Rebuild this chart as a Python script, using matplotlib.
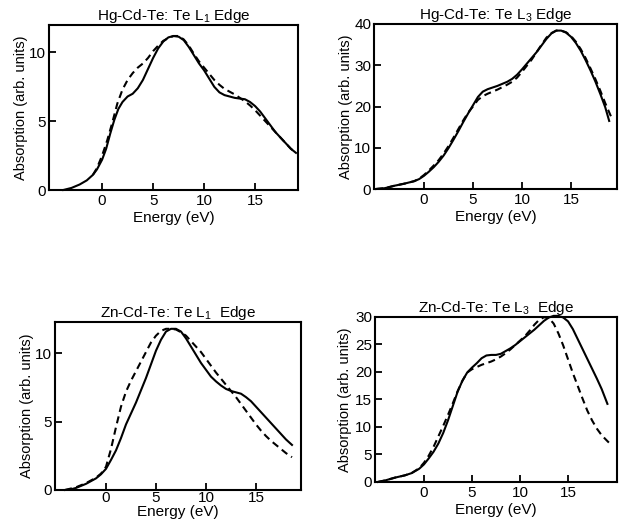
import matplotlib
matplotlib.use("Agg")
import matplotlib.pyplot as plt

# Hg-Cd-Te, Te L1 edge
hg_l1_e_solid = [-3.8, -3.0, -2.2, -1.5, -0.9, -0.5, 0.0, 0.4, 0.8, 1.2, 1.6, 2.0, 2.5, 3.0, 3.5, 4.0, 4.5,
                 5.0, 5.5, 6.0, 6.5, 7.0, 7.5, 8.0, 8.5, 9.0, 9.5, 10.0, 10.5, 11.0, 11.5, 12.0, 12.5,
                 13.0, 13.5, 14.0, 14.5, 15.0, 15.5, 16.0, 16.5, 17.0, 17.5, 18.0, 18.5, 19.0]
hg_l1_a_solid = [0.0, 0.15, 0.4, 0.7, 1.1, 1.5, 2.2, 3.0, 4.1, 5.1, 5.9, 6.4, 6.8, 7.0, 7.4, 8.0, 8.8,
                 9.6, 10.3, 10.8, 11.1, 11.2, 11.15, 10.9, 10.4, 9.8, 9.2, 8.7, 8.1, 7.5, 7.1, 6.9, 6.8,
                 6.7, 6.65, 6.6, 6.4, 6.1, 5.7, 5.2, 4.7, 4.2, 3.8, 3.4, 3.0, 2.7]
hg_l1_e_dash = [-0.9, -0.5, 0.0, 0.5, 1.0, 1.5, 2.0, 2.5, 3.0, 3.5, 4.0, 4.5, 5.0, 5.5, 6.0, 6.5, 7.0,
                7.5, 8.0, 8.5, 9.0, 9.5, 10.0, 10.5, 11.0, 11.5, 12.0, 12.5, 13.0, 13.5, 14.0, 14.5,
                15.0, 15.5, 16.0, 16.5, 17.0, 17.5, 18.0, 18.5, 19.0]
hg_l1_a_dash = [1.1, 1.6, 2.5, 3.6, 4.9, 6.3, 7.3, 8.0, 8.5, 8.9, 9.2, 9.6, 10.1, 10.5, 10.85, 11.05, 11.2,
                11.2, 10.95, 10.5, 9.9, 9.35, 8.9, 8.45, 8.0, 7.65, 7.35, 7.15, 6.95, 6.7, 6.45, 6.15,
                5.8, 5.4, 5.0, 4.6, 4.2, 3.8, 3.4, 3.0, 2.7]

# Hg-Cd-Te, Te L3 edge
hg_l3_e_solid = [-4.9, -4.0, -3.0, -2.0, -1.0, -0.5, 0.0, 0.5, 1.0, 1.5, 2.0, 2.5, 3.0, 3.5, 4.0, 4.5,
                 5.0, 5.5, 6.0, 6.5, 7.0, 7.5, 8.0, 8.5, 9.0, 9.5, 10.0, 10.5, 11.0, 11.5, 12.0, 12.5,
                 13.0, 13.5, 14.0, 14.5, 15.0, 15.5, 16.0, 16.5, 17.0, 17.5, 18.0, 18.5, 18.9]
hg_l3_a_solid = [0.0, 0.2, 0.8, 1.3, 1.9, 2.4, 3.2, 4.2, 5.3, 6.6, 8.1, 9.9, 11.9, 14.0, 16.2, 18.3,
                 20.3, 22.3, 23.6, 24.2, 24.6, 25.0, 25.5, 26.0, 26.7, 27.7, 29.0, 30.4, 31.8, 33.2, 34.8, 36.4,
                 37.7, 38.4, 38.4, 37.9, 36.9, 35.4, 33.5, 31.2, 28.7, 26.0, 23.0, 19.8, 16.5]
hg_l3_e_dash = [-4.9, -4.0, -3.0, -2.0, -1.0, -0.5, 0.0, 0.5, 1.0, 1.5, 2.0, 2.5, 3.0, 3.5, 4.0, 4.5,
                5.0, 5.5, 6.0, 6.5, 7.0, 7.5, 8.0, 8.5, 9.0, 9.5, 10.0, 10.5, 11.0, 11.5, 12.0, 12.5,
                13.0, 13.5, 14.0, 14.5, 15.0, 15.5, 16.0, 16.5, 17.0, 17.5, 18.0, 18.5, 19.1]
hg_l3_a_dash = [0.0, 0.2, 0.8, 1.3, 1.9, 2.5, 3.4, 4.5, 5.7, 7.0, 8.6, 10.4, 12.4, 14.5, 16.6, 18.5,
                20.0, 21.6, 22.5, 23.1, 23.6, 24.1, 24.7, 25.3, 26.0, 27.0, 28.4, 29.9, 31.4, 33.2, 35.0, 36.7,
                37.8, 38.4, 38.4, 38.0, 37.1, 35.7, 33.9, 31.7, 29.2, 26.6, 23.8, 20.8, 17.5]

# Zn-Cd-Te, Te L1 edge
zn_l1_e_solid = [-4.1, -3.5, -3.0, -2.5, -2.0, -1.5, -1.0, -0.5, 0.0, 0.5, 1.0, 1.5, 2.0, 2.5, 3.0, 3.5,
                 4.0, 4.5, 5.0, 5.5, 6.0, 6.5, 7.0, 7.5, 8.0, 8.5, 9.0, 9.5, 10.0, 10.5, 11.0, 11.5,
                 12.0, 12.5, 13.0, 13.5, 14.0, 14.5, 15.0, 15.5, 16.0, 16.5, 17.0, 17.5, 18.0, 18.6]
zn_l1_a_solid = [0.0, 0.05, 0.15, 0.3, 0.45, 0.65, 0.85, 1.15, 1.55, 2.2, 2.9, 3.8, 4.8, 5.6, 6.4, 7.3,
                 8.2, 9.2, 10.2, 11.0, 11.6, 11.8, 11.8, 11.6, 11.1, 10.5, 9.9, 9.3, 8.8, 8.3, 7.95, 7.65,
                 7.4, 7.25, 7.15, 7.05, 6.8, 6.5, 6.1, 5.7, 5.3, 4.9, 4.5, 4.1, 3.7, 3.3]
zn_l1_e_dash = [-4.1, -3.0, -2.0, -1.0, -0.5, 0.0, 0.5, 1.0, 1.5, 2.0, 2.5, 3.0, 3.5, 4.0, 4.5, 5.0,
                5.5, 6.0, 6.5, 7.0, 7.5, 8.0, 8.5, 9.0, 9.5, 10.0, 10.5, 11.0, 11.5, 12.0, 12.5, 13.0,
                13.5, 14.0, 14.5, 15.0, 15.5, 16.0, 16.5, 17.0, 17.5, 18.0, 18.6]
zn_l1_a_dash = [0.0, 0.2, 0.5, 0.9, 1.2, 1.7, 3.0, 4.6, 6.1, 7.2, 8.0, 8.7, 9.4, 10.1, 10.8, 11.3,
                11.65, 11.8, 11.8, 11.75, 11.55, 11.3, 10.9, 10.5, 10.1, 9.6, 9.1, 8.6, 8.15, 7.7, 7.25, 6.8,
                6.3, 5.8, 5.3, 4.8, 4.35, 3.95, 3.6, 3.3, 3.0, 2.7, 2.4]

# Zn-Cd-Te, Te L3 edge
zn_l3_e_solid = [-4.8, -4.0, -3.0, -2.0, -1.3, -0.5, 0.0, 0.5, 1.0, 1.5, 2.0, 2.5, 3.0, 3.5, 4.0, 4.5,
                 5.0, 5.5, 6.0, 6.5, 7.0, 7.5, 8.0, 8.5, 9.0, 9.5, 10.0, 10.5, 11.0, 11.5, 12.0, 12.5,
                 13.0, 13.5, 14.0, 14.5, 15.0, 15.5, 16.0, 16.5, 17.0, 17.5, 18.0, 18.5, 19.1]
zn_l3_a_solid = [0.0, 0.3, 0.8, 1.2, 1.6, 2.4, 3.2, 4.3, 5.5, 7.0, 8.9, 11.2, 13.8, 16.4, 18.4, 19.9,
                 20.8, 21.6, 22.5, 23.0, 23.1, 23.1, 23.3, 23.8, 24.3, 24.9, 25.6, 26.3, 27.0, 27.7, 28.5, 29.3,
                 29.9, 30.2, 30.2, 29.9, 29.2, 27.8, 26.0, 24.2, 22.4, 20.6, 18.8, 16.9, 14.2]
zn_l3_e_dash = [-4.8, -4.0, -3.0, -2.0, -1.3, -0.5, 0.0, 0.5, 1.0, 1.5, 2.0, 2.5, 3.0, 3.5, 4.0, 4.5,
                5.0, 5.5, 6.0, 6.5, 7.0, 7.5, 8.0, 8.5, 9.0, 9.5, 10.0, 10.5, 11.0, 11.5, 12.0, 12.5,
                13.0, 13.5, 14.0, 14.5, 15.0, 15.5, 16.0, 16.5, 17.0, 17.5, 18.0, 18.5, 19.0, 19.4]
zn_l3_a_dash = [0.0, 0.3, 0.8, 1.2, 1.6, 2.5, 3.5, 4.8, 6.4, 8.3, 10.2, 12.2, 14.3, 16.5, 18.4, 19.9,
                20.5, 20.9, 21.3, 21.6, 21.9, 22.3, 22.8, 23.4, 24.1, 24.9, 25.7, 26.5, 27.5, 28.6, 29.5, 29.95,
                29.8, 28.8, 27.0, 24.8, 22.3, 19.8, 17.5, 15.2, 13.0, 11.2, 9.7, 8.5, 7.6, 6.9]

titles = [r"Hg-Cd-Te: Te L$_1$ Edge", r"Hg-Cd-Te: Te L$_3$ Edge",
          r"Zn-Cd-Te: Te L$_1$  Edge", r"Zn-Cd-Te: Te L$_3$  Edge"]
x_ticks = [0, 5, 10, 15]
y_ticks = [[0, 5, 10], [0, 10, 20, 30, 40], [0, 5, 10], [0, 5, 10, 15, 20, 25, 30]]

plt.rcParams["font.family"] = "Liberation Sans"
plt.rcParams["mathtext.fontset"] = "custom"
plt.rcParams["mathtext.rm"] = "Liberation Sans"
plt.rcParams["mathtext.it"] = "Liberation Sans:italic"
plt.rcParams["font.size"] = 10

fig = plt.figure(figsize=(6.22, 5.24), dpi=100)

boxes = [
    [0.0788, 0.6374, 0.4003, 0.3149],
    [0.6013, 0.6393, 0.3907, 0.3149],
    [0.0884, 0.0649, 0.3955, 0.3206],
    [0.6029, 0.0802, 0.3891, 0.3149],
]
xlims = [(-5.2, 19.2), (-5.1, 19.7), (-5.1, 19.5), (-5.1, 20.1)]
ylims = [(0, 12), (0, 40), (0, 12.3), (0, 30)]
tick_pads = [3, 3, 1, 3]
xlabel_pads = [2, 2, 0, 2]
ylabel_pads = [1, 1, 1, 2]

curves = [
    (hg_l1_e_solid, hg_l1_a_solid, hg_l1_e_dash, hg_l1_a_dash),
    (hg_l3_e_solid, hg_l3_a_solid, hg_l3_e_dash, hg_l3_a_dash),
    (zn_l1_e_solid, zn_l1_a_solid, zn_l1_e_dash, zn_l1_a_dash),
    (zn_l3_e_solid, zn_l3_a_solid, zn_l3_e_dash, zn_l3_a_dash),
]

for i in range(4):
    ax = fig.add_axes(boxes[i])
    es, a_s, ed, a_d = curves[i]
    ax.plot(es, a_s, color="black", lw=1.5, solid_joinstyle="round", clip_on=False)
    ax.plot(ed, a_d, color="black", lw=1.5, linestyle=(0, (3.4, 2.2)), clip_on=False)
    ax.set_xlim(*xlims[i])
    ax.set_ylim(*ylims[i])
    ax.set_xticks(x_ticks)
    ax.set_yticks(y_ticks[i])
    ax.tick_params(direction="in", length=5, width=1.3, labelsize=11)
    ax.tick_params(axis="x", pad=tick_pads[i])
    ax.tick_params(axis="y", pad=2)
    for sp in ax.spines.values():
        sp.set_linewidth(1.5)
    ax.set_xlabel("Energy (eV)", fontsize=11, labelpad=xlabel_pads[i])
    ax.set_ylabel("Absorption (arb. units)", fontsize=10.5, labelpad=ylabel_pads[i])
    ax.set_title(titles[i], fontsize=11, pad=3)

fig.savefig("out.png", dpi=100)
